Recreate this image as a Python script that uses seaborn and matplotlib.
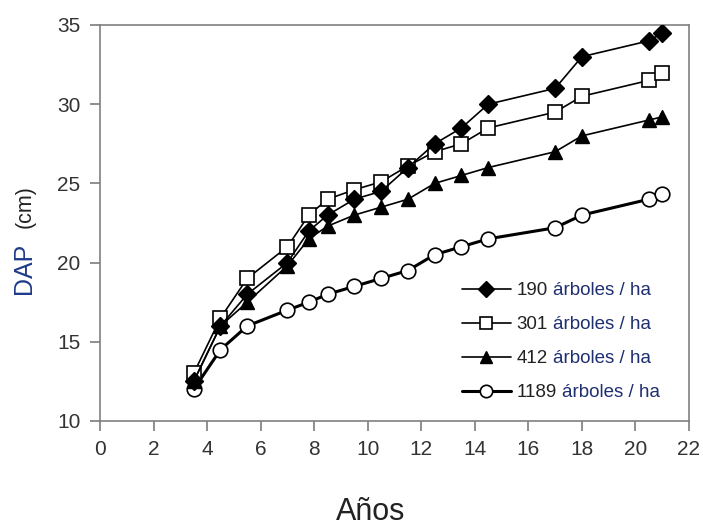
import matplotlib
matplotlib.use('Agg')
import matplotlib.pyplot as plt
import seaborn as sns

years = [3.5, 4.5, 5.5, 7, 7.8, 8.5, 9.5, 10.5, 11.5, 12.5, 13.5, 14.5, 17, 18, 20.5, 21]
dap_190 = [12.5, 16, 18, 20, 22, 23, 24, 24.5, 26, 27.5, 28.5, 30, 31, 33, 34, 34.5]
dap_301 = [13, 16.5, 19, 21, 23, 24, 24.6, 25.1, 26.1, 27, 27.5, 28.5, 29.5, 30.5, 31.5, 32]
dap_412 = [12.5, 16, 17.5, 19.8, 21.5, 22.3, 23, 23.5, 24, 25, 25.5, 26, 27, 28, 29, 29.2]
dap_1189 = [12, 14.5, 16, 17, 17.5, 18, 18.5, 19, 19.5, 20.5, 21, 21.5, 22.2, 23, 24, 24.3]

densities = ["190", "301", "412", "1189"]
suffix = "árboles / ha"
x_ticks = list(range(0, 23, 2))
y_ticks = [10, 15, 20, 25, 30, 35]
x_label = "Años"
y_label_main = "DAP"
y_label_unit = "(cm)"

sns.set_style('ticks')
plt.rcParams['font.family'] = ['Liberation Sans', 'DejaVu Sans']

W, H = 703, 527
fig = plt.figure(figsize=(W / 100, H / 100), dpi=100)
ax = fig.add_axes([100 / W, 1 - 421 / H, 589 / W, 396 / H])

styles = [
    dict(marker='D', markersize=9, markerfacecolor='black', markeredgecolor='black',
         markeredgewidth=1.0, linewidth=1.2),
    dict(marker='s', markersize=10.5, markerfacecolor='white', markeredgecolor='black',
         markeredgewidth=1.2, linewidth=1.2),
    dict(marker='^', markersize=10.5, markerfacecolor='black', markeredgecolor='black',
         markeredgewidth=1.0, linewidth=1.2),
    dict(marker='o', markersize=10.5, markerfacecolor='white', markeredgecolor='black',
         markeredgewidth=1.2, linewidth=2.2),
]
series = [dap_190, dap_301, dap_412, dap_1189]
zorders = [4, 3, 5, 2]
for name, vals, st, z in zip(densities, series, styles, zorders):
    sns.lineplot(x=years, y=vals, ax=ax, color='black', label=name, zorder=z, **st)

ax.set_xlim(0, 22)
ax.set_ylim(10, 35)
ax.set_xticks(x_ticks)
ax.set_yticks(y_ticks)
ax.set_xlabel('')
ax.set_ylabel('')
for s in ax.spines.values():
    s.set_visible(True)
    s.set_color('#808080')
    s.set_linewidth(1.2)
ax.tick_params(direction='out', length=7, width=1.1, color='#707070',
               labelsize=15, labelcolor='#333333', pad=7, bottom=True, left=True)

handles, labels = ax.get_legend_handles_labels()
leg = ax.legend(handles, labels, loc='upper left',
                bbox_to_anchor=(462 / W, 1 - 282 / H), bbox_transform=fig.transFigure,
                frameon=False, fontsize=13.5, handlelength=2.6, handletextpad=0.3,
                labelspacing=0.9, borderpad=0, borderaxespad=0, markerscale=0.85)
for t in leg.get_texts():
    t.set_color('#222222')

fig.canvas.draw()
for t in leg.get_texts():
    bb = t.get_window_extent()
    fig.text((bb.x1 + 5) / W, bb.y0 / H, suffix, ha='left', va='bottom',
             fontsize=13.5, color='#1f2f70')

fig.text(371 / W, 1 - 512 / H, x_label, ha='center', va='center', fontsize=22, color='#222222')
fig.text(24 / W, 1 - 294 / H, y_label_main, rotation=90, ha='center', va='bottom',
         fontsize=18, color='#1f3a8a')
fig.text(25 / W, 1 - 228 / H, y_label_unit, rotation=90, ha='center', va='bottom',
         fontsize=15.5, color='#222222')

fig.savefig('out.png', dpi=100)
